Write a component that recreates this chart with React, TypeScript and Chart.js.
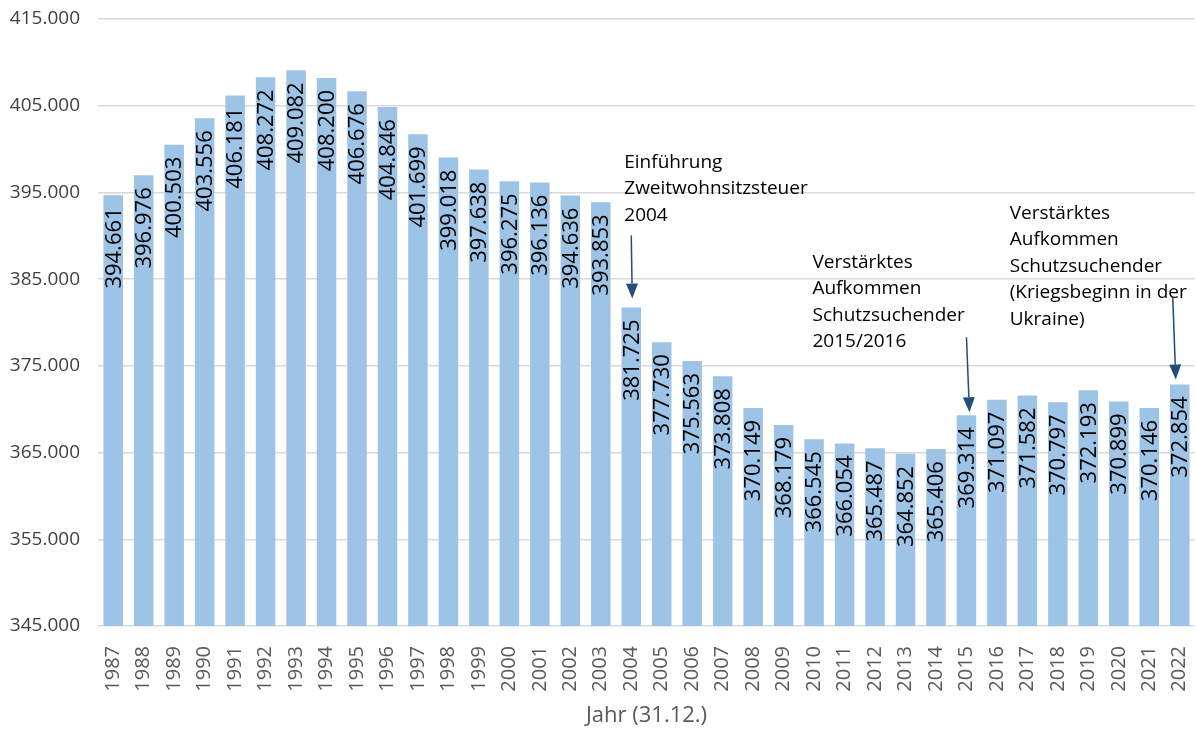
import React, { useEffect, useRef } from "react";
import { Chart, registerables } from "chart.js";

Chart.register(...registerables);

const years = [
  "1987","1988","1989","1990","1991","1992","1993","1994","1995","1996",
  "1997","1998","1999","2000","2001","2002","2003","2004","2005","2006",
  "2007","2008","2009","2010","2011","2012","2013","2014","2015","2016",
  "2017","2018","2019","2020","2021","2022",
];
const population = [
  394661, 396976, 400503, 403556, 406181, 408272, 409082, 408200, 406676, 404846,
  401699, 399018, 397638, 396275, 396136, 394636, 393853, 381725, 377730, 375563,
  373808, 370149, 368179, 366545, 366054, 365487, 364852, 365406, 369314, 371097,
  371582, 370797, 372193, 370899, 370146, 372854,
];
const yMin = 345000;
const yMax = 415000;
const yStep = 10000;
const axisTitle = "Jahr (31.12.)";

const noteYears = ["2004", "2015", "2022"];
const noteTexts = [
  ["Einführung", "Zweitwohnsitzsteuer", "2004"],
  ["Verstärktes", "Aufkommen", "Schutzsuchender", "2015/2016"],
  ["Verstärktes", "Aufkommen", "Schutzsuchender", "(Kriegsbeginn in der", "Ukraine)"],
];
// layout for notes (pixel offsets relative to the bar)
const noteLayout = [
  { tx: -7, ty: -145, ax0: 0, ax1: 1, ay0: -72, ay1: -9 },
  { tx: -154, ty: -153, ax0: 0, ax1: 3, ay0: -78, ay1: -3 },
  { tx: -170, ty: -171, ax0: -7, ax1: -4, ay0: -87, ay1: -5 },
];

const FONT = "'Open Sans', 'Liberation Sans', sans-serif";

const fmt = (v: number) => String(Math.round(v)).replace(/\B(?=(\d{3})+(?!\d))/g, ".");

const labelPlugin = {
  id: "barLabels",
  afterDatasetsDraw(chart: any) {
    const ctx = chart.ctx;
    const meta = chart.getDatasetMeta(0);
    ctx.save();
    ctx.font = `22px ${FONT}`;
    ctx.fillStyle = "#000000";
    ctx.textAlign = "right";
    ctx.textBaseline = "middle";
    meta.data.forEach((bar: any, i: number) => {
      ctx.save();
      ctx.translate(bar.x + 1, bar.y + 12);
      ctx.rotate(-Math.PI / 2);
      ctx.fillText(fmt(population[i]), 0, 0);
      ctx.restore();
    });
    ctx.restore();
  },
};

const notePlugin = {
  id: "notes",
  afterDraw(chart: any) {
    const ctx = chart.ctx;
    const meta = chart.getDatasetMeta(0);
    ctx.save();
    noteYears.forEach((yr, n) => {
      const idx = years.indexOf(yr);
      const bar: any = meta.data[idx];
      const L = noteLayout[n];
      ctx.font = `19px ${FONT}`;
      ctx.fillStyle = "#000000";
      ctx.textAlign = "left";
      ctx.textBaseline = "middle";
      noteTexts[n].forEach((line, k) => {
        ctx.fillText(line, bar.x + L.tx, bar.y + L.ty + k * 26.5);
      });
      const x0 = bar.x + L.ax0;
      const y0 = bar.y + L.ay0;
      const x1 = bar.x + L.ax1;
      const y1 = bar.y + L.ay1;
      const ang = Math.atan2(y1 - y0, x1 - x0);
      const headLen = 15;
      const headW = 6;
      ctx.strokeStyle = "#1F4E79";
      ctx.fillStyle = "#1F4E79";
      ctx.lineWidth = 1.5;
      const bx = x1 - Math.cos(ang) * headLen;
      const by = y1 - Math.sin(ang) * headLen;
      ctx.beginPath();
      ctx.moveTo(x0, y0);
      ctx.lineTo(bx, by);
      ctx.stroke();
      ctx.beginPath();
      ctx.moveTo(x1, y1);
      ctx.lineTo(bx + Math.sin(ang) * headW, by - Math.cos(ang) * headW);
      ctx.lineTo(bx - Math.sin(ang) * headW, by + Math.cos(ang) * headW);
      ctx.closePath();
      ctx.fill();
    });
    ctx.restore();
  },
};

export default function App() {
  const ref = useRef<HTMLCanvasElement | null>(null);
  useEffect(() => {
    document.body.style.margin = "0";
    const canvas = ref.current;
    if (!canvas) return;
    const chart = new Chart(canvas, {
      type: "bar",
      data: {
        labels: years,
        datasets: [
          {
            data: population,
            backgroundColor: "#9DC3E6",
            borderWidth: 0,
            barPercentage: 0.64,
            categoryPercentage: 1,
          },
        ],
      },
      options: {
        animation: false,
        responsive: false,
        maintainAspectRatio: false,
        layout: { padding: { top: 19, right: 1, left: 0, bottom: 0 } },
        plugins: {
          legend: { display: false },
          tooltip: { enabled: false },
          title: { display: false },
        },
        scales: {
          x: {
            grid: { display: false },
            border: { display: false },
            ticks: {
              minRotation: 90,
              maxRotation: 90,
              autoSkip: false,
              padding: 12,
              color: "#595959",
              font: { family: FONT, size: 20 },
            },
            title: {
              display: true,
              text: axisTitle,
              color: "#595959",
              font: { family: FONT, size: 22 },
              padding: { top: 4, bottom: 0 },
            },
            afterFit(scale: any) {
              scale.height = 103;
              scale.paddingLeft = 0;
              scale.paddingRight = 0;
            },
          },
          y: {
            min: yMin,
            max: yMax,
            grid: { color: "#d9d9d9", lineWidth: 1.5, drawTicks: false },
            border: { display: false },
            ticks: {
              stepSize: yStep,
              padding: 18,
              color: "#404040",
              font: { family: FONT, size: 19 },
              callback: (v: any) => fmt(Number(v)),
            },
            afterFit(scale: any) {
              scale.width = 98;
              scale.paddingTop = 0;
              scale.paddingBottom = 0;
            },
          },
        },
      },
      plugins: [labelPlugin, notePlugin],
    });
    return () => chart.destroy();
  }, []);
  return (
    <div style={{ width: 1196, height: 729, position: "relative" }}>
      <canvas ref={ref} width={1196} height={729} style={{ display: "block" }} />
    </div>
  );
}
